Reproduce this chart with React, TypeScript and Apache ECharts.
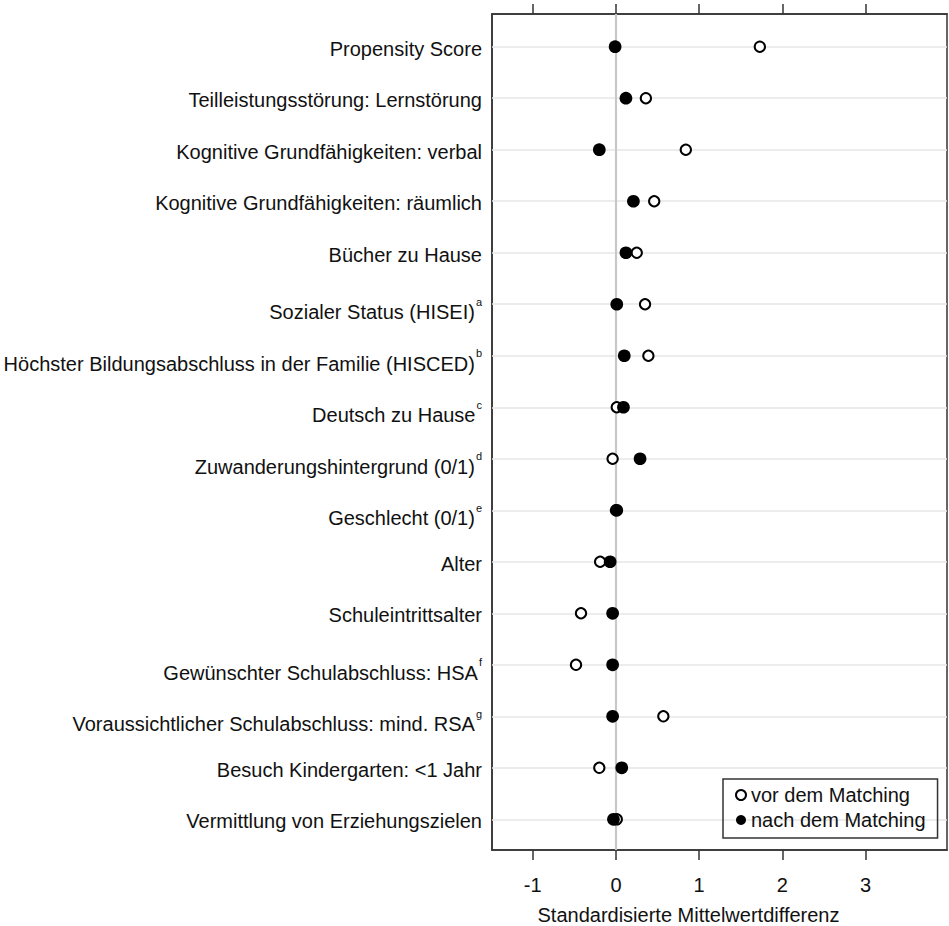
import React, { useEffect, useRef } from "react";
import * as echarts from "echarts";

const labels = [
  "Propensity Score",
  "Teilleistungsstörung: Lernstörung",
  "Kognitive Grundfähigkeiten: verbal",
  "Kognitive Grundfähigkeiten: räumlich",
  "Bücher zu Hause",
  "Sozialer Status (HISEI)",
  "Höchster Bildungsabschluss in der Familie (HISCED)",
  "Deutsch zu Hause",
  "Zuwanderungshintergrund (0/1)",
  "Geschlecht (0/1)",
  "Alter",
  "Schuleintrittsalter",
  "Gewünschter Schulabschluss: HSA",
  "Voraussichtlicher Schulabschluss: mind. RSA",
  "Besuch Kindergarten: <1 Jahr",
  "Vermittlung von Erziehungszielen",
];
const supers = ["", "", "", "", "", "a", "b", "c", "d", "e", "", "", "f", "g", "", ""];

const vorMatching = [1.73, 0.36, 0.84, 0.46, 0.25, 0.35, 0.39, 0.01, -0.04, 0.0, -0.19, -0.42, -0.48, 0.57, -0.2, 0.01];
const nachMatching = [-0.01, 0.12, -0.2, 0.21, 0.12, 0.01, 0.1, 0.09, 0.29, 0.01, -0.07, -0.04, -0.04, -0.04, 0.07, -0.03];

const xTicks = [-1, 0, 1, 2, 3];
const seriesNames = ["vor dem Matching", "nach dem Matching"];
const xTitle = "Standardisierte Mittelwertdifferenz";

const FONT = "'Liberation Sans', Arial, Helvetica, sans-serif";
const FS = 20;

export default function App() {
  const ref = useRef<HTMLDivElement>(null);
  useEffect(() => {
    if (!ref.current) return;
    const chart = echarts.init(ref.current, null, { renderer: "svg" });
    const rows = labels.map((_, i) => i);
    const option: any = {
      animation: false,
      backgroundColor: "#fff",
      grid: {
        left: 492,
        right: 2,
        top: 14,
        bottom: 76,
        containLabel: false,
        outerBoundsMode: "none",
        show: true,
        borderColor: "#333",
        borderWidth: 1.5,
        backgroundColor: "transparent",
      },
      legend: {
        orient: "vertical",
        left: 723,
        top: 779,
        itemWidth: 10,
        itemHeight: 10,
        itemGap: 5,
        padding: [6, 12, 8, 12],
        borderColor: "#333",
        borderWidth: 1.5,
        textStyle: { fontFamily: FONT, fontSize: FS, color: "#111", lineHeight: 20 },
        data: [
          { name: seriesNames[0], icon: "circle", itemStyle: { color: "#fff", borderColor: "#000", borderWidth: 2 } },
          { name: seriesNames[1], icon: "circle", itemStyle: { color: "#000", borderWidth: 0 } },
        ],
      },
      xAxis: [
        {
          type: "value",
          position: "bottom",
          min: -1.49,
          max: 3.98,
          splitLine: { show: false },
          axisLine: { show: true, onZero: false, lineStyle: { color: "#333", width: 1.5 } },
          axisTick: { show: true, customValues: xTicks, length: 10, lineStyle: { color: "#333", width: 1.5 } },
          axisLabel: {
            customValues: xTicks,
            margin: 25,
            fontFamily: FONT,
            fontSize: FS,
            color: "#111",
          },
          name: xTitle,
          nameLocation: "middle",
          nameGap: 55,
          nameTextStyle: { fontFamily: FONT, fontSize: FS, color: "#111", padding: [0, 62, 0, 0] },
        },
        {
          type: "value",
          position: "top",
          min: -1.49,
          max: 3.98,
          splitLine: { show: false },
          axisLine: { show: true, onZero: false, lineStyle: { color: "#333", width: 1.5 } },
          axisTick: { show: true, customValues: xTicks, length: 10, lineStyle: { color: "#333", width: 1.5 } },
          axisLabel: { show: false },
        },
      ],
      yAxis: {
        type: "value",
        inverse: true,
        min: -0.635,
        max: 15.596,
        splitLine: { show: false },
        axisTick: { show: false },
        axisLine: { show: true, onZero: false, lineStyle: { color: "#333", width: 1.5 } },
        axisLabel: {
          customValues: rows,
          margin: 10,
          fontFamily: FONT,
          fontSize: FS,
          color: "#111",
          formatter: (v: number) => {
            const i = Math.round(v);
            const s = supers[i];
            return s ? `{m|${labels[i]}}{s|${s}}` : `{p|${labels[i]}}`;
          },
          rich: {
            m: { fontFamily: FONT, fontSize: FS, color: "#111", padding: [16, 0, 0, 0], verticalAlign: "bottom" },
            s: { fontFamily: FONT, fontSize: 11, color: "#111", padding: [10, 0, 0, 1], verticalAlign: "top" },
            p: { fontFamily: FONT, fontSize: FS, color: "#111", padding: [4, 0, 0, 0], verticalAlign: "bottom" },
          },
        },
      },
      series: [
        {
          type: "line",
          name: "__grid",
          data: [],
          silent: true,
          z: 1,
          markLine: {
            silent: true,
            z: 1,
            symbol: ["none", "none"],
            label: { show: false },
            animation: false,
            data: [
              ...rows.map((i) => ({ yAxis: i, lineStyle: { color: "#e6e6e6", width: 1.5, type: "solid" } })),
              { xAxis: 0, lineStyle: { color: "#c8c8c8", width: 2.2, type: "solid" } },
            ],
          },
        },
        {
          type: "scatter",
          name: seriesNames[0],
          symbol: "circle",
          symbolSize: 10.3,
          itemStyle: { color: "#fff", borderColor: "#000", borderWidth: 2, opacity: 1 },
          data: vorMatching.map((v, i) => [v, i]),
          z: 3,
        },
        {
          type: "scatter",
          name: seriesNames[1],
          symbol: "circle",
          symbolSize: 12.7,
          itemStyle: { color: "#000", opacity: 1 },
          data: nachMatching.map((v, i) => [v, i]),
          z: 4,
        },
      ],
    };
    chart.setOption(option);
    return () => chart.dispose();
  }, []);
  return (
    <div
      ref={ref}
      style={{ position: "absolute", left: 0, top: 0, width: 949, height: 926, background: "#fff" }}
    />
  );
}
